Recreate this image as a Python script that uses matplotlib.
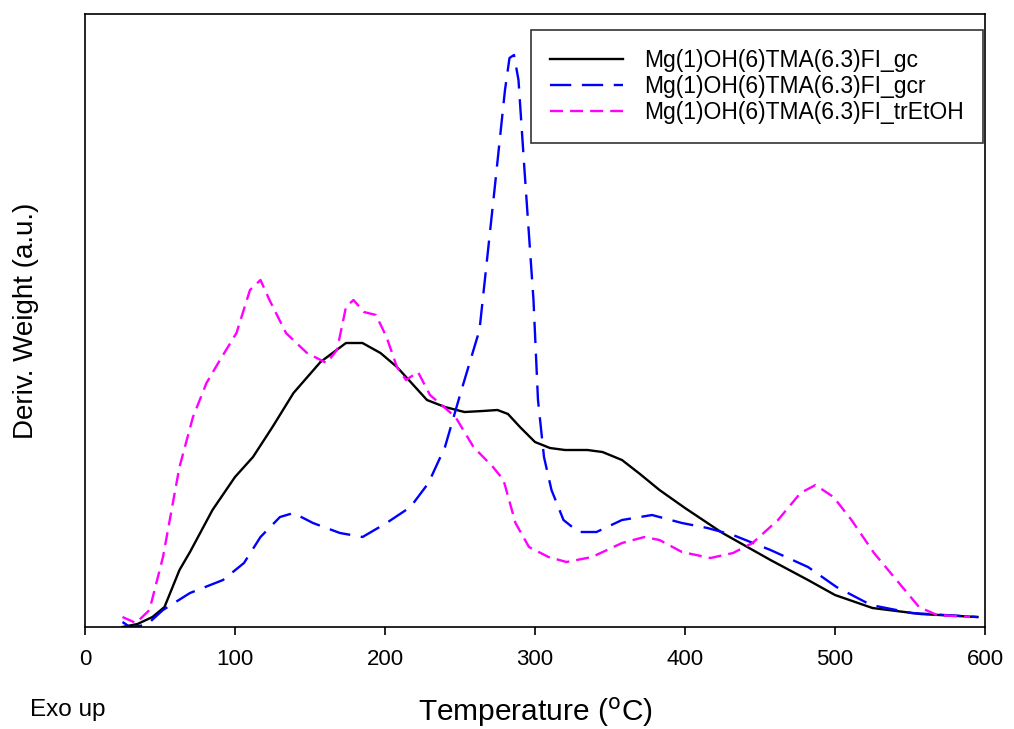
import matplotlib
matplotlib.use("Agg")
import matplotlib.pyplot as plt

# === DADOS ===
t_gc = [25, 35, 45, 53, 63, 70, 85, 100, 112, 125, 139, 157, 174, 185, 197, 208,
        228, 240, 253, 265, 275, 282, 290, 300, 310, 320, 335, 345, 358, 370, 383,
        400, 425, 457, 482, 500, 525, 557, 595]
v_gc = [0, 3, 10, 20, 57, 75, 117, 150, 170, 200, 234, 265, 284, 284, 274, 260,
        227, 220, 215, 216, 217, 213, 200, 185, 179, 177, 177, 175, 167, 153, 137,
        119, 94, 67, 47, 32, 19, 13, 10]

t_gcr = [25, 30, 41, 52, 70, 92, 106, 117, 130, 139, 152, 170, 185, 201, 217,
         229, 240, 251, 263, 273, 280, 283, 286, 289, 293, 299, 302, 306, 311,
         319, 329, 341, 358, 378, 398, 415, 432, 457, 482, 501, 524, 551, 595]
v_gcr = [5, 0, 2, 17, 34, 47, 64, 90, 110, 114, 104, 94, 90, 104, 120,
         144, 180, 237, 297, 437, 537, 569, 572, 547, 457, 327, 227, 170, 137,
         107, 95, 95, 107, 112, 104, 99, 92, 77, 60, 40, 22, 14, 10]

t_tr = [25, 34, 43, 52, 63, 72, 81, 90, 101, 110, 117, 123, 134, 148, 161, 168,
        174, 179, 186, 194, 201, 208, 214, 222, 230, 247, 259, 272, 279, 287, 296,
        309, 321, 338, 358, 373, 383, 398, 417, 432, 445, 462, 477, 487, 499,
        511, 526, 541, 556, 568, 590]
v_tr = [10, 4, 17, 70, 160, 210, 244, 267, 294, 337, 347, 327, 294, 274, 264, 277,
        320, 327, 315, 312, 290, 260, 247, 255, 232, 210, 180, 160, 147, 104, 80,
        70, 65, 70, 84, 90, 87, 75, 69, 74, 84, 107, 134, 142, 130,
        107, 74, 47, 20, 12, 10]

labels = ["Mg(1)OH(6)TMA(6.3)FI_gc", "Mg(1)OH(6)TMA(6.3)FI_gcr",
          "Mg(1)OH(6)TMA(6.3)FI_trEtOH"]
xticks = [0, 100, 200, 300, 400, 500, 600]

plt.rcParams["font.family"] = ["Liberation Sans", "DejaVu Sans"]

fig = plt.figure(figsize=(10.14, 7.29), dpi=100)
ax = fig.add_axes([0.0838, 0.1399, 0.8876, 0.8409])

ax.plot(t_gc, v_gc, color="black", lw=1.7, label=labels[0])
ax.plot(t_gcr, v_gcr, color="#0000ff", lw=1.7, dashes=(9, 4.5), label=labels[1])
ax.plot(t_tr, v_tr, color="#ff00ff", lw=1.7, dashes=(5.5, 3), label=labels[2])

ax.set_xlim(0, 600)
ax.set_ylim(0, 613)
ax.set_xticks(xticks)
ax.set_yticks([])
ax.tick_params(axis="x", direction="out", length=6, width=1.2, labelsize=16, pad=10)
for s in ax.spines.values():
    s.set_linewidth(1.2)

ax.set_ylabel("Deriv. Weight (a.u.)", fontsize=20, labelpad=33)
ax.set_xlabel("Temperature ($^{\\rm o}$C)", fontsize=21.5, labelpad=18)
fig.text(0.03, 0.018, "Exo up", fontsize=17.5)

leg = ax.legend(loc="upper right", bbox_to_anchor=(0.998, 0.974), fontsize=16.5,
                frameon=True, fancybox=False, handlelength=3.2, borderpad=0.85,
                labelspacing=0.12, handletextpad=0.9, borderaxespad=0)
leg.get_frame().set_edgecolor("black")
leg.get_frame().set_linewidth(1.2)

fig.savefig("out.png", dpi=100)
